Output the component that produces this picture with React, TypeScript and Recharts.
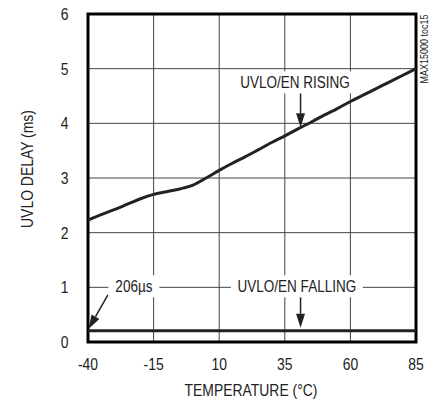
import React from "react";
import {
  LineChart,
  Line,
  XAxis,
  YAxis,
  CartesianGrid,
  ReferenceArea,
  ReferenceLine,
  ReferenceDot,
} from "recharts";

// UVLO delay vs temperature
const temps = [-40, -35, -30, -25, -20, -15, -10, -5, 0, 5, 10, 15, 20, 25, 30, 35, 40, 45, 50, 55, 60, 65, 70, 75, 80, 85];
const risingDelay = [2.23, 2.33, 2.42, 2.52, 2.62, 2.7, 2.75, 2.8, 2.87, 3.0, 3.14, 3.27, 3.39, 3.52, 3.65, 3.77, 3.9, 4.02, 4.15, 4.27, 4.4, 4.52, 4.64, 4.76, 4.88, 5.0];
const fallingTemps = [-40, 85];
const fallingDelay = [0.206, 0.206];

const xTicks = [-40, -15, 10, 35, 60, 85];
const yTicks = [0, 1, 2, 3, 4, 5, 6];

// annotation labels and the points they sit on (data units)
const labelTexts = ["UVLO/EN RISING", "UVLO/EN FALLING", "206µs"];
const labelAt = [
  { t: 38.9, v: 4.75 },
  { t: 39.6, v: 1.02 },
  { t: -22.5, v: 1.02 },
];
const arrows = [
  [{ x: 41, y: 4.55 }, { x: 41, y: 3.93 }],
  [{ x: 41, y: 0.82 }, { x: 41, y: 0.26 }],
  [{ x: -32.4, y: 0.86 }, { x: -39.8, y: 0.24 }],
];

const risingData = temps.map((t, i) => ({ t, v: risingDelay[i] }));
const fallingData = fallingTemps.map((t, i) => ({ t, v: fallingDelay[i] }));

const FONT = "'Liberation Sans', Arial, sans-serif";
const SQUEEZE = 0.82; // narrow Helvetica look
const INK = "#222";
const boxWidths = [118, 132, 51];

function NText(props: any) {
  const { x, y, anchor = "middle", size = 17, rotate, dy, children } = props;
  const tf = `translate(${x},${y})${rotate ? ` rotate(${rotate})` : ""} scale(${SQUEEZE},1)`;
  return (
    <text transform={tf} textAnchor={anchor} dy={dy} fontFamily={FONT} fontSize={size} fill={INK}>
      {children}
    </text>
  );
}

function XTick(props: any) {
  const { x, y, payload } = props;
  return <NText x={x} y={y} dy="0.71em">{payload.value}</NText>;
}

function YTick(props: any) {
  const { x, y, payload } = props;
  return <NText x={x} y={y} anchor="end" dy="0.355em">{payload.value}</NText>;
}

function XTitle(props: any) {
  const { x, y, width } = props.viewBox;
  return <NText x={x + width / 2 - 1} y={y + 54}>TEMPERATURE (°C)</NText>;
}

function YTitle(props: any) {
  const { y, height } = props.viewBox;
  return <NText x={32.5} y={y + height / 2 - 9} rotate={-90}>UVLO DELAY (ms)</NText>;
}

function Arrow(props: any) {
  const { x1, y1, x2, y2 } = props;
  const dx = x2 - x1;
  const dy = y2 - y1;
  const len = Math.sqrt(dx * dx + dy * dy) || 1;
  const ux = dx / len;
  const uy = dy / len;
  const head = 14;
  const half = 4.5;
  const bx = x2 - ux * head;
  const by = y2 - uy * head;
  return (
    <g>
      <line x1={x1} y1={y1} x2={bx} y2={by} stroke={INK} strokeWidth={1.5} />
      <polygon
        points={`${x2},${y2} ${bx - uy * half},${by + ux * half} ${bx + uy * half},${by - ux * half}`}
        fill={INK}
      />
    </g>
  );
}

function makeTag(text: string, w: number) {
  return (props: any) => {
    const { cx, cy } = props;
    return (
      <g>
        <rect x={cx - w / 2} y={cy - 11} width={w} height={22} fill="#fff" />
        <NText x={cx} y={cy} dy="0.355em" size={16.5}>
          {text}
        </NText>
      </g>
    );
  };
}

function SideNote(props: any) {
  const { cx, cy } = props;
  return (
    <NText x={cx + 11.5} y={cy} rotate={-90} size={11}>
      MAX15000 toc15
    </NText>
  );
}

export default function App() {
  return (
    <div style={{ position: "absolute", left: 0, top: 0, width: 433, height: 404, background: "#fff" }}>
      <LineChart width={433} height={404} margin={{ top: 14, right: 17, bottom: 0, left: 0 }}>
        <CartesianGrid stroke="#444" strokeWidth={1} />
        <XAxis
          type="number"
          dataKey="t"
          domain={[-40, 85]}
          ticks={xTicks}
          allowDataOverflow
          height={62}
          axisLine={false}
          tickLine={false}
          tickSize={0}
          tickMargin={16}
          tick={(p: any) => <XTick {...p} />}
          label={(p: any) => <XTitle {...p} />}
        />
        <YAxis
          type="number"
          domain={[0, 6]}
          ticks={yTicks}
          allowDataOverflow
          width={88}
          axisLine={false}
          tickLine={false}
          tickSize={0}
          tickMargin={19.5}
          tick={(p: any) => <YTick {...p} />}
          label={(p: any) => <YTitle {...p} />}
        />
        <ReferenceArea x1={-40} x2={85} y1={0} y2={6} fill="none" stroke="#000" strokeWidth={3} />
        <Line
          data={risingData}
          dataKey="v"
          type="monotone"
          stroke={INK}
          strokeWidth={3}
          dot={false}
          isAnimationActive={false}
        />
        <Line
          data={fallingData}
          dataKey="v"
          type="linear"
          stroke={INK}
          strokeWidth={3}
          dot={false}
          isAnimationActive={false}
        />
        {labelTexts.map((txt, i) => (
          <ReferenceDot
            key={txt}
            x={labelAt[i].t}
            y={labelAt[i].v}
            r={0}
            shape={makeTag(txt, boxWidths[i])}
          />
        ))}
        {arrows.map((seg, i) => (
          <ReferenceLine key={`arrow-${i}`} segment={seg} shape={(p: any) => <Arrow {...p} />} />
        ))}
        <ReferenceDot x={85} y={5.36} r={0} shape={(p: any) => <SideNote {...p} />} />
      </LineChart>
    </div>
  );
}
